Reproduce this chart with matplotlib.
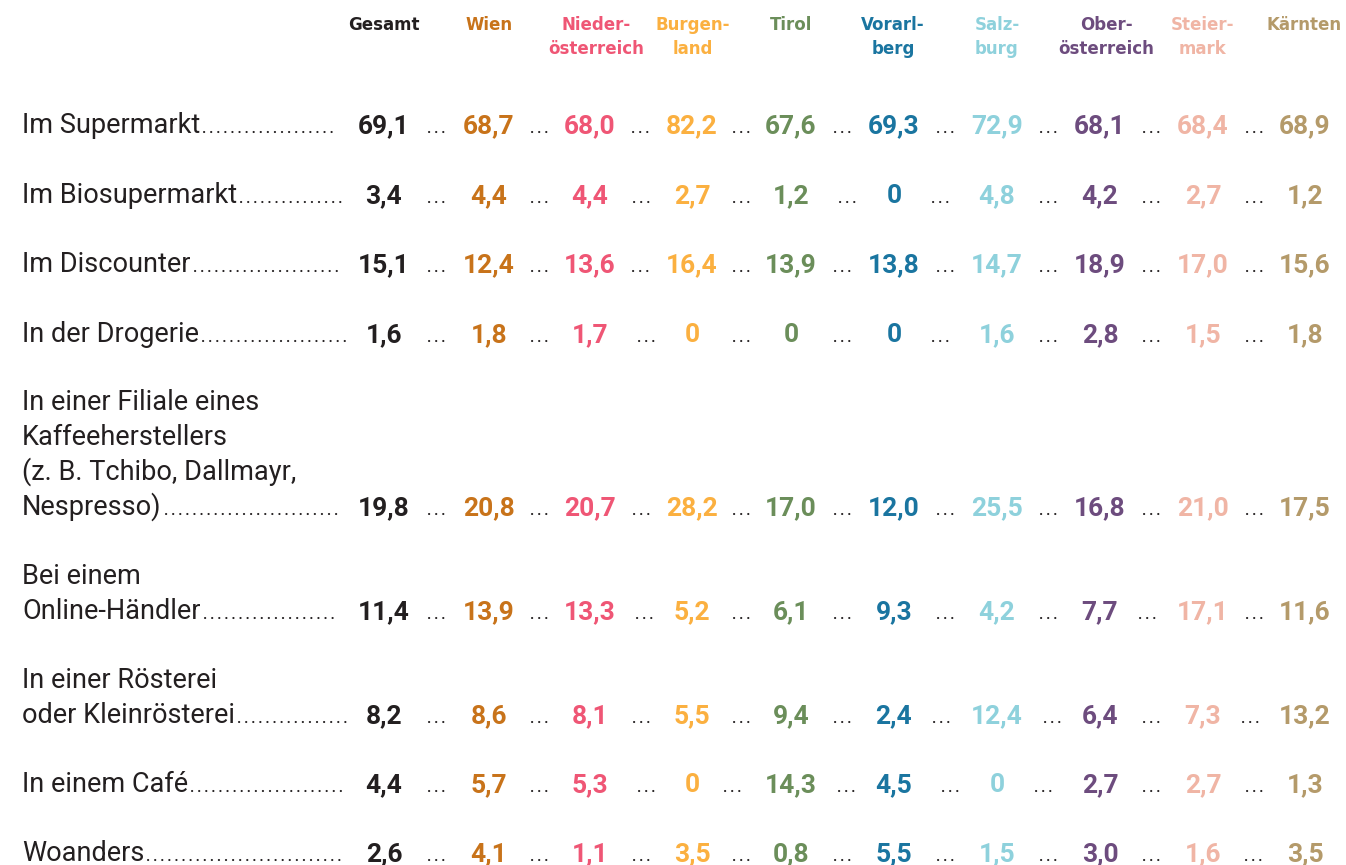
import matplotlib.pyplot as plt

# data
categories = ["Im Supermarkt", "Im Biosupermarkt", "Im Discounter", "In der Drogerie",
              "In einer Filiale eines\nKaffeeherstellers\n(z. B. Tchibo, Dallmayr,\nNespresso)",
              "Bei einem\nOnline-Händler", "In einer Rösterei\noder Kleinrösterei",
              "In einem Café", "Woanders"]
regions = ["Gesamt", "Wien", "Nieder-\nösterreich", "Burgen-\nland", "Tirol",
           "Vorarl-\nberg", "Salz-\nburg", "Ober-\nösterreich", "Steier-\nmark", "Kärnten"]
gesamt      = [69.1, 3.4, 15.1, 1.6, 19.8, 11.4, 8.2, 4.4, 2.6]
wien        = [68.7, 4.4, 12.4, 1.8, 20.8, 13.9, 8.6, 5.7, 4.1]
niederoe    = [68.0, 4.4, 13.6, 1.7, 20.7, 13.3, 8.1, 5.3, 1.1]
burgenland  = [82.2, 2.7, 16.4, 0, 28.2, 5.2, 5.5, 0, 3.5]
tirol       = [67.6, 1.2, 13.9, 0, 17.0, 6.1, 9.4, 14.3, 0.8]
vorarlberg  = [69.3, 0, 13.8, 0, 12.0, 9.3, 2.4, 4.5, 5.5]
salzburg    = [72.9, 4.8, 14.7, 1.6, 25.5, 4.2, 12.4, 0, 1.5]
oberoe      = [68.1, 4.2, 18.9, 2.8, 16.8, 7.7, 6.4, 2.7, 3.0]
steiermark  = [68.4, 2.7, 17.0, 1.5, 21.0, 17.1, 7.3, 2.7, 1.6]
kaernten    = [68.9, 1.2, 15.6, 1.8, 17.5, 11.6, 13.2, 1.3, 3.5]
columns = [gesamt, wien, niederoe, burgenland, tirol, vorarlberg, salzburg, oberoe, steiermark, kaernten]

colors = ['#231f20', '#c8731a', '#ef5675', '#fbb040', '#6b8e5a',
          '#1a75a0', '#8ed1dc', '#6d4c7e', '#f0b5a5', '#b49a6a']
dotcolor = '#231f20'

# layout (pixels)
col_x = [384, 489, 590, 692, 791, 894, 997, 1100, 1203, 1305]
head_x = [384, 489, 596, 693, 791, 893, 997, 1106, 1203, 1304]
row_base = [133, 203, 272, 342, 515, 619, 723, 792, 861]
line_h = 35
head_base = [30, 54]

plt.rcParams['font.family'] = ['Roboto', 'DejaVu Sans']

W, H = 1346, 865
fig = plt.figure(figsize=(W / 100, H / 100), dpi=100)
ax = fig.add_axes([0, 0, 1, 1])
ax.set_xlim(0, W)
ax.set_ylim(H, 0)
ax.axis('off')


def fmt(v):
    return "0" if v == 0 else f"{v:.1f}".replace('.', ',')


for x, name, c in zip(head_x, regions, colors):
    for k, part in enumerate(name.split('\n')):
        ax.text(x, head_base[k], part, ha='center', va='baseline', fontsize=12,
                fontweight='bold', color=c, family=['DejaVu Sans'])

last_lines = []
for y, cat in zip(row_base, categories):
    parts = cat.split('\n')
    n = len(parts)
    for k, part in enumerate(parts):
        t = ax.text(22, y - (n - 1 - k) * line_h, part, ha='left', va='baseline',
                    fontsize=19.5, color='#231f20')
    last_lines.append(t)

vals = []
for x, col, c in zip(col_x, columns, colors):
    vc = []
    for y, v in zip(row_base, col):
        t = ax.text(x, y, fmt(v), ha='center', va='baseline', fontsize=19,
                    fontweight='bold', color=c)
        vc.append(t)
    vals.append(vc)

fig.canvas.draw()
r = fig.canvas.get_renderer()


def ext(t):
    b = t.get_window_extent(r)
    return b.x0, b.x1


def leader(x0, x1, y):
    if x1 > x0:
        ax.plot([x0, x1], [y - 1, y - 1], color=dotcolor, lw=1.5,
                linestyle=(0, (0.1, 3.3)), dash_capstyle='round')


for ri, y in enumerate(row_base):
    lx1 = ext(last_lines[ri])[1]
    gx0 = ext(vals[0][ri])[0]
    leader(lx1 + 4, gx0 - 20, y)
    for ci in range(len(columns) - 1):
        a = ext(vals[ci][ri])[1]
        b = ext(vals[ci + 1][ri])[0]
        mid = (a + b) / 2
        half = min((b - a) / 2 - 13, 7.5)
        leader(mid - half, mid + half, y)

fig.savefig('out.png', dpi=100, facecolor='white')
